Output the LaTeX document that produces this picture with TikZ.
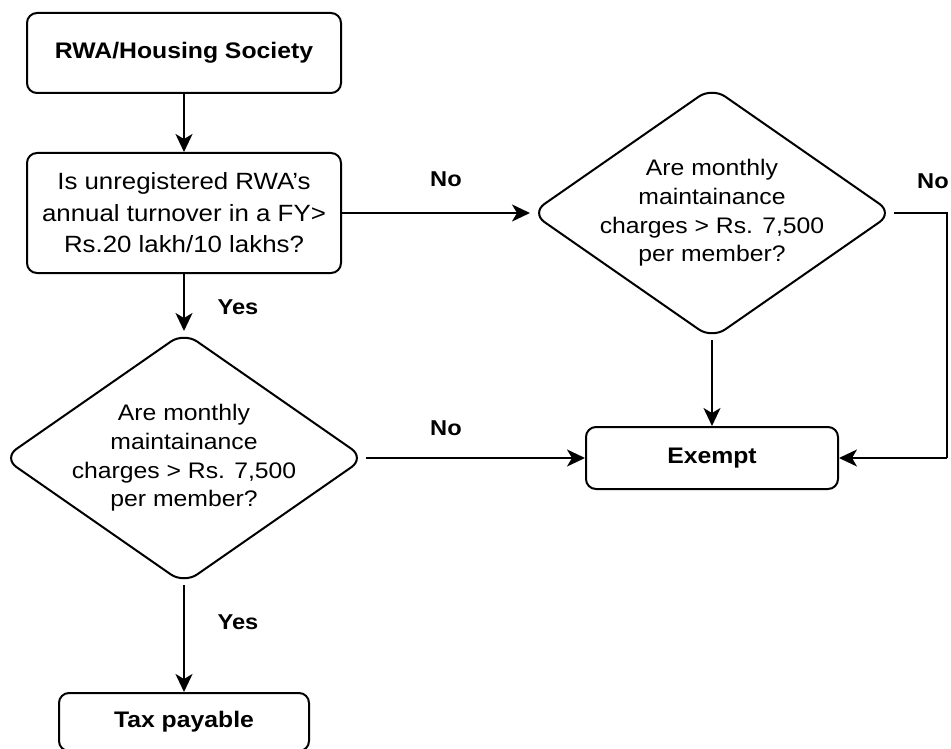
\documentclass[tikz,border=0pt]{standalone}
\usepackage{fontspec}
\setmainfont[FakeStretch=1.1]{Liberation Sans}
\usetikzlibrary{shapes.geometric,arrows.meta}

\tikzset{
  box/.style={draw, line width=2pt, rounded corners=10pt, inner sep=0pt},
  decision/.style={draw, line width=2pt, shape=diamond, rounded corners=16pt,
    minimum width=362pt, minimum height=252pt, inner sep=0pt},
  qtext/.style={align=center, font=\fontsize{22.5}{28.7}\selectfont},
  answer/.style={font=\bfseries\fontsize{21.5}{24}\selectfont},
  flow/.style={line width=2pt, -{Stealth[length=18pt, width=17pt, inset=5pt]}},
  line/.style={line width=2pt}
}

\begin{document}
\begin{tikzpicture}[x=1pt, y=-1pt]
  \useasboundingbox (0,0) rectangle (951,749);

  % start and first question
  \node[box, minimum width=314pt, minimum height=80pt,
        font=\bfseries\fontsize{22.5}{27}\selectfont] (soc) at (184,53) {RWA/Housing Society};
  \node[box, minimum width=314pt, minimum height=120pt, align=center,
        font=\fontsize{23.5}{31.5}\selectfont] (turn) at (184,213)
        {Is unregistered RWA’s\\annual turnover in a FY>\\Rs.20 lakh/10 lakhs?};

  % maintenance-charge decisions
  \node[decision] (mr) at (712,213) {};
  \node[qtext] (mrt) at (mr) {Are monthly\\maintainance\\charges > Rs. 7,500\\per member?};
  \node[decision] (ml) at (184,458) {};
  \node[qtext] (mlt) at (ml) {Are monthly\\maintainance\\charges > Rs. 7,500\\per member?};

  % outcomes
  \node[box, minimum width=252pt, minimum height=62pt,
        font=\bfseries\fontsize{22.5}{27}\selectfont] (ex) at (712,458) {Exempt};
  \node[box, minimum width=250pt, minimum height=58pt,
        font=\bfseries\fontsize{22.5}{27}\selectfont] (tax) at (184,722) {Tax payable};

  % corner of the right-hand return path
  \coordinate (cr1) at (947,213);
  \coordinate (cr2) at (947,458);

  % connectors
  \draw[flow] (soc) -- (turn);
  \draw[flow] (turn.east) -- (mr.west);
  \draw[flow] (turn.south) -- (ml.north);
  \draw[flow] (mr.south) -- (ex.north);
  \draw[line] (mr.east) -- (cr1) -- (cr2);
  \draw[flow] (cr2) -- (ex.east);
  \draw[flow] (ml.east) -- (ex.west);
  \draw[flow] (ml.south) -- (tax.north);

  % branch labels
  \node[answer] (no1) at (446,179) {No};
  \node[answer, anchor=west, inner sep=0pt] (no2) at (917,181) {No};
  \node[answer, anchor=west] (yes1) at (214,307) {Yes};
  \node[answer] (no3) at (446,428) {No};
  \node[answer, anchor=west] (yes2) at (214,622) {Yes};
\end{tikzpicture}
\end{document}
